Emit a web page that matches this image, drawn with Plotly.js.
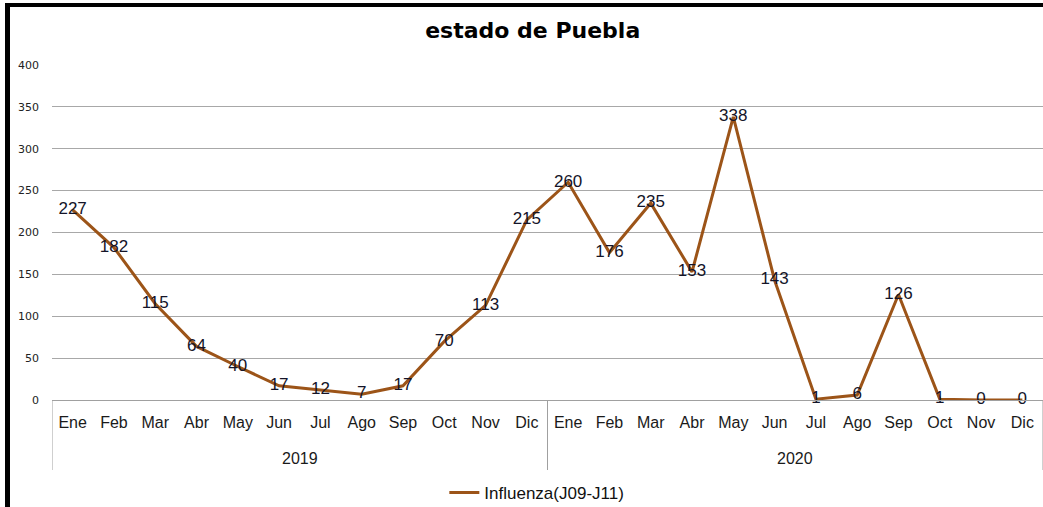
<!DOCTYPE html>
<html>
<head>
<meta charset="utf-8">
<script src="https://cdn.plot.ly/plotly-3.0.1.min.js"></script>
<style>
html, body { margin: 0; padding: 0; background: #fff; }
#wrap { position: absolute; left: 5px; top: 3px; border-left: 5px solid #000; border-top: 4px solid #000; }
#chart { width: 1033px; height: 500px; }
</style>
</head>
<body>
<div id="wrap"><div id="chart"></div></div>
<script>
const years = ["2019", "2020"];
const months = ["Ene","Feb","Mar","Abr","May","Jun","Jul","Ago","Sep","Oct","Nov","Dic"];
const values2019 = [227,182,115,64,40,17,12,7,17,70,113,215];
const values2020 = [260,176,235,153,338,143,1,6,126,1,0,0];
const seriesName = "Influenza(J09-J11)";
const yTicks = [0,50,100,150,200,250,300,350,400];

const allVals = [values2019, values2020];
const xIdx = [], xText = [], yVals = [];
years.forEach((yr, i) => {
  months.forEach((m, j) => {
    xIdx.push(i * months.length + j);
    xText.push(m);
    yVals.push(allVals[i][j]);
  });
});

const trace = {
  type: "scatter",
  mode: "lines+text",
  x: xIdx,
  y: yVals,
  name: seriesName,
  line: { color: "#9C5418", width: 3 },
  text: yVals.map(String),
  textposition: "middle center",
  textfont: { family: "Liberation Sans, Arial, sans-serif", size: 17, color: "#141428" },
  showlegend: true,
  cliponaxis: false
};

// year group labels and dividers, positioned from the category counts
const annotations = years.map((yr, i) => ({
  text: yr, xref: "x", yref: "paper",
  x: i * months.length + (months.length - 1) / 2, y: -0.176,
  xanchor: "center", yanchor: "middle", showarrow: false,
  font: { family: "Liberation Sans, Arial, sans-serif", size: 16, color: "#1a1a1a" }
}));
const shapes = [];
for (let i = 0; i <= years.length; i++) {
  shapes.push({
    type: "line", xref: "x", yref: "paper",
    x0: i * months.length - 0.5, x1: i * months.length - 0.5,
    y0: 0, y1: -0.209,
    line: { color: "#a0a0a0", width: 1 }
  });
}

const layout = {
  width: 1033, height: 500,
  margin: { l: 42, r: 0, t: 58, b: 107 },
  paper_bgcolor: "#fff", plot_bgcolor: "#fff",
  title: {
    text: "<b>estado de Puebla</b>",
    font: { family: "DejaVu Sans, Verdana, sans-serif", size: 22, color: "#000" },
    xref: "container", x: 0.506, xanchor: "center",
    yref: "container", y: 0.954, yanchor: "middle"
  },
  xaxis: {
    type: "linear",
    range: [-0.5, 23.5],
    tickvals: xIdx,
    ticktext: xText,
    showgrid: false, zeroline: false,
    showline: true, linecolor: "#a0a0a0", linewidth: 1,
    ticks: "",
    ticklabelstandoff: 8,
    tickfont: { family: "Liberation Sans, Arial, sans-serif", size: 16, color: "#1a1a1a" },
    automargin: false
  },
  yaxis: {
    range: [0, 400],
    tickvals: yTicks,
    ticktext: yTicks.map(String),
    showgrid: true, gridcolor: "#a8a8a8", gridwidth: 1,
    zeroline: false, showline: false,
    ticks: "",
    ticklabelstandoff: 12,
    tickfont: { family: "DejaVu Sans, Verdana, sans-serif", size: 11, color: "#222" },
    automargin: false
  },
  annotations: annotations,
  shapes: shapes,
  legend: {
    orientation: "h",
    xref: "container", yref: "container",
    x: 0.51, xanchor: "center",
    y: 0.028, yanchor: "middle",
    font: { family: "Liberation Sans, Arial, sans-serif", size: 17, color: "#111" },
    itemwidth: 30
  }
};

Plotly.newPlot("chart", [trace], layout, { displayModeBar: false, staticPlot: true });
</script>
</body>
</html>
